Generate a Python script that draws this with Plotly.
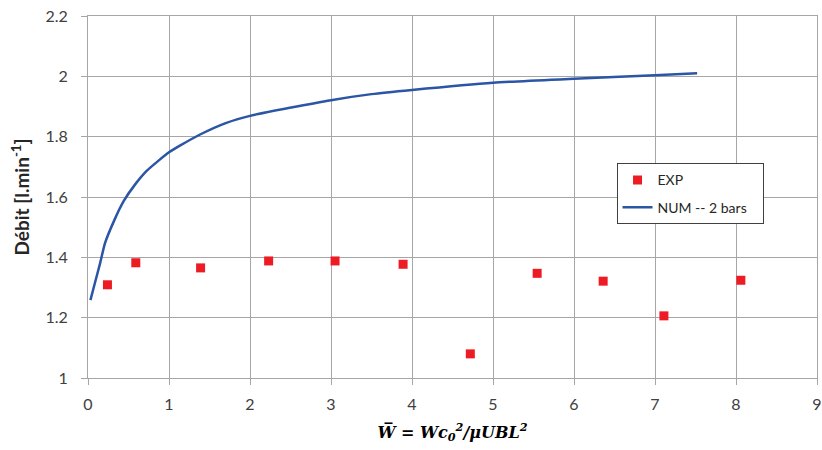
import plotly.graph_objects as go

# EXP data
exp_x = [0.24, 0.59, 1.39, 2.23, 3.05, 3.89, 4.72, 5.545, 6.36, 7.11, 8.06]
exp_y = [1.309, 1.382, 1.365, 1.388, 1.388, 1.377, 1.080, 1.347, 1.321, 1.206, 1.324]

# NUM -- 2 bars curve
num_x = [0.03, 0.09, 0.15, 0.21, 0.32, 0.44, 0.58, 0.73, 0.86, 1.0, 1.14, 1.39,
         1.7, 2.0, 3.0, 3.5, 4.0, 5.0, 6.0, 7.0, 7.52]
num_y = [1.258, 1.32, 1.381, 1.447, 1.52, 1.586, 1.641, 1.688, 1.718, 1.748, 1.771, 1.808,
         1.845, 1.869, 1.921, 1.941, 1.955, 1.979, 1.992, 2.004, 2.01]

x_ticks = [0, 1, 2, 3, 4, 5, 6, 7, 8, 9]
y_ticks = [1, 1.2, 1.4, 1.6, 1.8, 2, 2.2]
y_tick_text = ["1", "1.2", "1.4", "1.6", "1.8", "2", "2.2"]

grid = "#a6a6a6"
font_family = "Lato, 'Open Sans', sans-serif"

fig = go.Figure()
fig.add_trace(go.Scatter(
    x=exp_x, y=exp_y, mode="markers", name="EXP", legendgroup="a",
    marker=dict(symbol="square", size=9, color="#ed1c24"),
))
fig.add_trace(go.Scatter(
    x=num_x, y=num_y, mode="lines", name="NUM -- 2 bars\u00a0\u00a0\u00a0", legendgroup="b",
    line=dict(color="#2b55a5", width=2.5, shape="spline", smoothing=0.6),
))

fig.update_layout(
    width=822, height=450,
    margin=dict(l=87.6, r=4.5, t=16, b=72),
    paper_bgcolor="white", plot_bgcolor="white",
    font=dict(family=font_family, size=16, color="#404040"),
    showlegend=True,
    legend=dict(
        x=0.725, y=0.593, xanchor="left", yanchor="top",
        bordercolor="#404040", borderwidth=1, bgcolor="white",
        font=dict(family=font_family, size=14, color="#262626"),
        tracegroupgap=6, traceorder="grouped",
    ),
    xaxis=dict(
        range=[0, 9], tickvals=x_ticks, ticktext=[str(v) for v in x_ticks],
        showgrid=True, gridcolor=grid, gridwidth=1,
        showline=True, linecolor=grid, linewidth=1, mirror=True,
        zeroline=False, ticks="outside", ticklen=6, tickcolor=grid,
        ticklabelstandoff=6, automargin=False,
        title=dict(
            text="<b><i>W\u0305 = Wc<sub>0</sub><sup>2</sup>/\u03bcUBL<sup>2</sup></i></b>",
            font=dict(family="'DejaVu Serif', 'Liberation Serif', serif", size=16, color="#000000"),
            standoff=14,
        ),
    ),
    yaxis=dict(
        range=[1, 2.2], tickvals=y_ticks, ticktext=y_tick_text,
        showgrid=True, gridcolor=grid, gridwidth=1,
        showline=True, linecolor=grid, linewidth=1, mirror=True,
        zeroline=False, ticks="outside", ticklen=6, tickcolor=grid,
        ticklabelstandoff=10, automargin=False,
        title=dict(
            text="<b>Débit [l.min<sup>-1</sup>]</b>",
            font=dict(family=font_family, size=19, color="#262626"),
            standoff=10,
        ),
    ),
)

fig.write_html("out.html", config={"displayModeBar": False},
               post_script="document.body.style.margin='0';")
